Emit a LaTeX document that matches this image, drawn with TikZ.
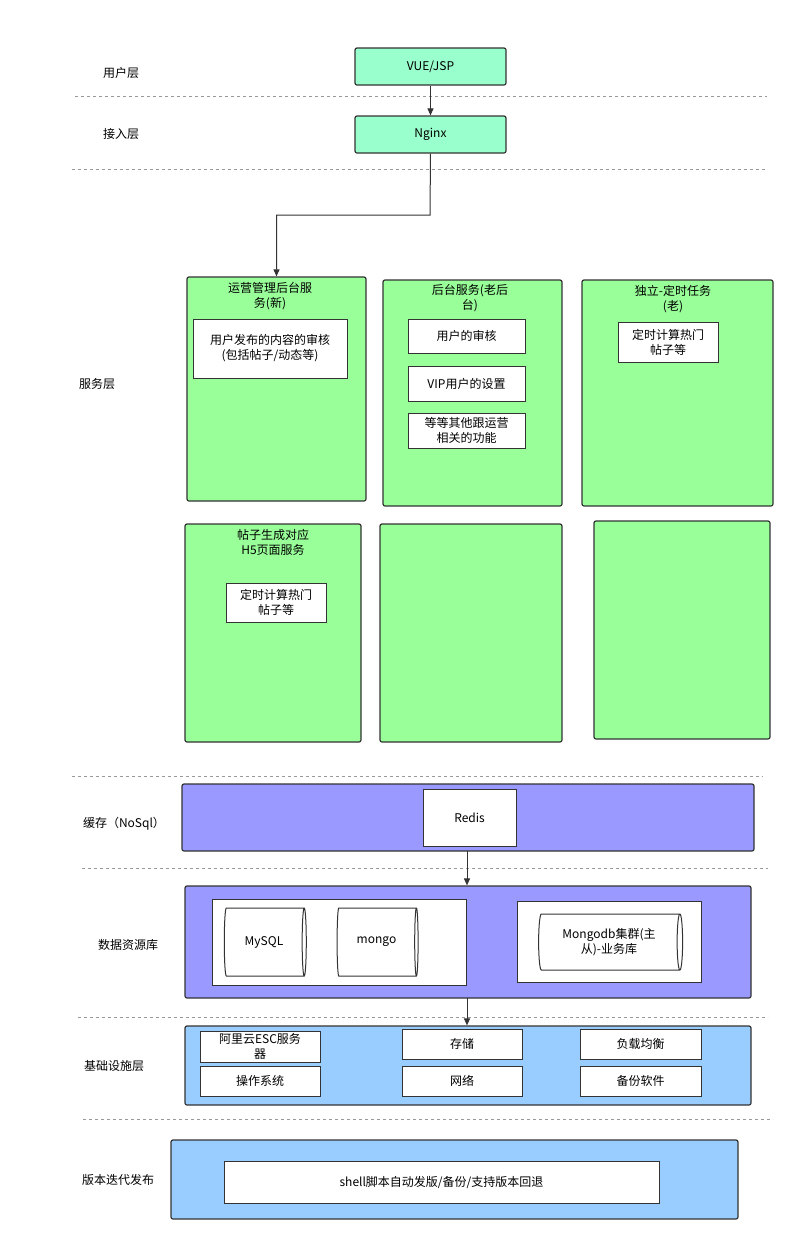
\documentclass[tikz,border=0pt]{standalone}
\usepackage{fontspec}
\setmainfont{Noto Sans CJK SC}
\usetikzlibrary{shapes.geometric,arrows.meta}
\definecolor{gr}{HTML}{99FF99}
\definecolor{aq}{HTML}{99FFCC}
\definecolor{pu}{HTML}{9999FF}
\definecolor{lb}{HTML}{99CCFF}
\definecolor{dl}{HTML}{999999}
\begin{document}
\begin{tikzpicture}[x=1pt,y=-1pt,
  every node/.style={font=\fontsize{12}{15}\selectfont,align=center,inner sep=0pt},
  bx/.style={draw=black!80,line width=1.2pt,rounded corners=2pt},
  wb/.style={draw=black!80,line width=1pt,fill=white},
  sepline/.style={dl,dashed,line width=0.8pt},
  lbl/.style={anchor=center},
  cyl/.style={cylinder,draw=black!80,line width=1pt,fill=white,shape aspect=0.35},
  arr/.style={-{Triangle[length=7pt,width=6pt]},line width=1pt,black!80}]
\useasboundingbox (0,0) rectangle (805,1251);
% dashed separators
\draw[sepline] (75,96)--(767,96);
\draw[sepline] (72,169)--(766,169);
\draw[sepline] (72,776)--(763,776);
\draw[sepline] (82,868)--(768,868);
\draw[sepline] (78,1017)--(768,1017);
\draw[sepline] (83,1119)--(773,1119);
% labels
\node[lbl] (l1) at (121,73) {用户层};
\node[lbl] (l2) at (121,134) {接入层};
\node[lbl] (l3) at (97,384) {服务层};
\node[lbl] (l4) at (124,824) {缓存（NoSql）};
\node[lbl] (l5) at (128,945) {数据资源库};
\node[lbl] (l6) at (114,1066) {基础设施层};
\node[lbl] (l7) at (118,1180) {版本迭代发布};
% top
\node[bx,fill=aq,minimum width=151,minimum height=37] (vue) at (430.5,66.5) {VUE/JSP};
\node[bx,fill=aq,minimum width=151,minimum height=37] (ngx) at (430.5,134.5) {Nginx};
\draw[arr] (vue) -- (ngx);
% green service boxes
\node[bx,fill=gr,minimum width=179,minimum height=224] (A) at (276.5,389) {};
\node[bx,fill=gr,minimum width=179,minimum height=226] (B) at (472.5,393) {};
\node[bx,fill=gr,minimum width=191,minimum height=226] (C) at (677.5,393) {};
\node[bx,fill=gr,minimum width=176,minimum height=218] (D) at (273,633) {};
\node[bx,fill=gr,minimum width=182,minimum height=218] (E) at (471,633) {};
\node[bx,fill=gr,minimum width=176,minimum height=218] (F) at (682,630) {};
\draw[arr] (ngx.south) -- (430,215) -| (A.north);
\node (At) at (270,296) {运营管理后台服\\务(新)};
\node[wb,minimum width=154,minimum height=59] (A1) at (270,348.5) {用户发布的内容的审核\\(包括帖子/动态等)};
\node (Bt) at (470,298) {后台服务(老后\\台)};
\node[wb,minimum width=117,minimum height=34] (B1) at (466.5,336) {用户的审核};
\node[wb,minimum width=117,minimum height=35] (B2) at (466.5,383.5) {VIP用户的设置};
\node[wb,minimum width=117,minimum height=35] (B3) at (466.5,430.5) {等等其他跟运营\\相关的功能};
\node (Ct) at (673,299) {独立-定时任务\\(老)};
\node[wb,minimum width=100,minimum height=40] (C1) at (668,342) {定时计算热门\\帖子等};
\node (Dt) at (273,542) {帖子生成对应\\H5页面服务};
\node[wb,minimum width=100,minimum height=39] (D1) at (276,602.5) {定时计算热门\\帖子等};
% cache
\node[bx,fill=pu,minimum width=572,minimum height=67] (cache) at (468,817.5) {};
\node[wb,minimum width=93,minimum height=57] (redis) at (469.5,817.5) {Redis};
% data
\node[bx,fill=pu,minimum width=566,minimum height=112] (data) at (468,942) {};
\coordinate (c1) at (467,851);
\coordinate (c2) at (467,998);
\draw[arr] (c1) -- (c1 |- data.north);
\node[wb,minimum width=254,minimum height=86] (d1) at (339,942) {};
\node[cyl,minimum height=82,minimum width=68] (my) at (264,942) {MySQL};
\node[cyl,minimum height=81,minimum width=68] (mg) at (376.5,942) {mongo};
\node[wb,minimum width=184,minimum height=81] (d2) at (609,941.5) {};
\node[cyl,minimum height=144,minimum width=56,shape aspect=0.2] (mgc) at (609,942) {Mongodb集群(主\\从)-业务库};
% infra
\node[bx,fill=lb,minimum width=566,minimum height=79] (inf) at (468,1065.5) {};
\draw[arr] (c2) -- (c2 |- inf.north);
\node[wb,minimum width=120,minimum height=31] (i1) at (260,1046.5) {阿里云ESC服务\\器};
\node[wb,minimum width=120,minimum height=30] (i2) at (260,1081) {操作系统};
\node[wb,minimum width=120,minimum height=30] (i3) at (462,1044) {存储};
\node[wb,minimum width=120,minimum height=30] (i4) at (462,1081) {网络};
\node[wb,minimum width=121,minimum height=30] (i5) at (640.5,1044) {负载均衡};
\node[wb,minimum width=121,minimum height=30] (i6) at (640.5,1081) {备份软件};
% version
\node[bx,fill=lb,minimum width=567,minimum height=79] (ver) at (454.5,1179.5) {};
\node[wb,minimum width=435,minimum height=42] (v1) at (441.5,1182) {shell脚本自动发版/备份/支持版本回退};
\end{tikzpicture}
\end{document}
